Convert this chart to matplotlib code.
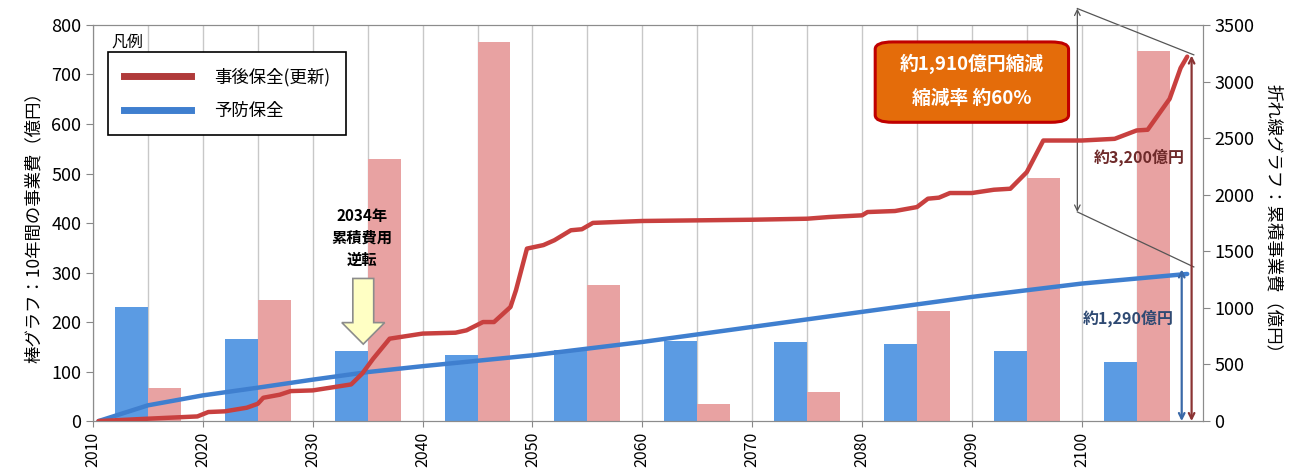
import numpy as np
import matplotlib
matplotlib.use('Agg')
import matplotlib.pyplot as plt
from matplotlib.lines import Line2D
from matplotlib.patches import FancyBboxPatch, FancyArrow

plt.rcParams['font.family'] = ['Noto Sans CJK JP', 'DejaVu Sans']

#
# bar data: 10-year project cost (left axis)
#
decades = [2010, 2020, 2030, 2040, 2050, 2060, 2070, 2080, 2090, 2100]
prevent_bar = [230, 166, 141, 134, 143, 161, 160, 155, 142, 119]
after_bar = [66, 245, 530, 766, 274, 35, 58, 222, 491, 748]

#
# cumulative cost lines (right axis)
#
red_years = [2010.5, 2015, 2019.5, 2020.5, 2022, 2024, 2025, 2025.5, 2027, 2028,
             2030, 2032, 2033.5, 2034.5, 2035.5, 2037, 2038, 2040, 2043, 2044,
             2045.5, 2046.5, 2048, 2048.5, 2049.5, 2051, 2052, 2053.5, 2054.5,
             2055.5, 2060, 2070, 2075, 2077, 2080, 2080.5, 2083, 2085, 2086,
             2087, 2088, 2090, 2092, 2093.5, 2095, 2096.5, 2100, 2103, 2105,
             2106, 2108, 2109, 2109.6]
red_cum = [0, 21, 41, 80, 86, 118, 153, 206, 233, 265,
           271, 301, 324, 419, 551, 728, 743, 773, 781, 802,
           875, 875, 1008, 1156, 1524, 1555, 1598, 1686, 1695,
           1751, 1768, 1779, 1788, 1803, 1818, 1847, 1856, 1891, 1965,
           1974, 2015, 2015, 2044, 2053, 2200, 2479, 2479, 2494, 2568,
           2574, 2847, 3120, 3220]
blue_years = [2010.5, 2015, 2020, 2025, 2030, 2035, 2040, 2050, 2060, 2070,
              2080, 2090, 2100, 2109.6]
blue_cum = [0, 139, 227, 295, 366, 433, 485, 581, 699, 832,
            965, 1097, 1215, 1300]

legend_labels = ['事後保全(更新)', '予防保全']

blue_bar_c = '#5b9be3'
pink_bar_c = '#e8a2a2'
red_line_c = '#c8403f'
blue_line_c = '#3f7fcf'

fig = plt.figure(figsize=(13.1, 4.71), dpi=100)
ax = fig.add_axes([0.071, 0.106, 0.847, 0.841])
ax2 = ax.twinx()

x = np.array(decades)
ax.bar(x + 3.5, prevent_bar, width=3.0, color=blue_bar_c, zorder=2)
ax.bar(x + 6.5, after_bar, width=3.0, color=pink_bar_c, zorder=2)

ax.set_xlim(2010, 2111)
ax.set_ylim(0, 800)
ax2.set_ylim(0, 3500)
ax.set_yticks(np.arange(0, 801, 100))
ax2.set_yticks(np.arange(0, 3501, 500))
ax.set_xticks(np.arange(2010, 2101, 10))
ax.set_xticks(np.arange(2015, 2106, 10), minor=True)
ax.tick_params(axis='x', which='major', labelrotation=90, labelsize=11.5,
               length=4, color='#888888')
ax.tick_params(axis='x', which='minor', length=0)
ax.tick_params(axis='y', labelsize=13, length=5, color='#888888')
ax2.tick_params(axis='y', labelsize=13, length=5, color='#888888')
ax.grid(axis='x', which='both', color='#c8c8c8', lw=1.0, zorder=0)
for a in (ax, ax2):
    for s in a.spines.values():
        s.set_color('#8c8c8c')
ax.set_ylabel('棒グラフ：10年間の事業費（億円）', fontsize=12.5, labelpad=6)
ax2.set_ylabel('折れ線グラフ：累積事業費（億円）', fontsize=12.5, rotation=270,
               labelpad=20)

ax2.plot(blue_years, blue_cum, color=blue_line_c, lw=3.2, zorder=3,
         solid_capstyle='round')
ax2.plot(red_years, red_cum, color=red_line_c, lw=3.2, zorder=4,
         solid_capstyle='round')

# legend
handles = [Line2D([], [], color='#b03a3a', lw=5),
           Line2D([], [], color='#3f7fcf', lw=5)]
leg = ax2.legend(handles, legend_labels, loc='upper left',
                 bbox_to_anchor=(0.0135, 0.932), fontsize=12.5, handlelength=3.9,
                 handletextpad=1.3, borderpad=0.9, labelspacing=0.9,
                 fancybox=False, framealpha=1, borderaxespad=0)
leg.get_frame().set_edgecolor('black')
leg.get_frame().set_linewidth(1.2)
ax2.text(0.017, 0.957, '凡例', transform=ax2.transAxes, fontsize=11.5,
         ha='left', va='center')

# 2034 arrow + text
ax2.text(2034.5, 1620, '2034年\n累積費用\n逆転', ha='center', va='center',
         fontsize=11, fontweight='bold', linespacing=1.45, zorder=6)
arr = FancyArrow(2034.6, 1260, 0, -580, width=1.9, head_width=3.9,
                 head_length=190, length_includes_head=True,
                 facecolor='#ffffc4', edgecolor='#8c8c8c', lw=1.2, zorder=6)
ax2.add_patch(arr)

# right-side arrows
ax2.annotate('', xy=(2109.1, 0), xytext=(2109.1, 1340),
             arrowprops=dict(arrowstyle='<->', color='#3a69a8', lw=1.6,
                             shrinkA=0, shrinkB=0), zorder=5)
ax2.annotate('', xy=(2110, 0), xytext=(2110, 3230),
             arrowprops=dict(arrowstyle='<->', color='#8b3434', lw=1.6,
                             shrinkA=0, shrinkB=0), zorder=5)
ax2.text(2105.2, 2330, '約3,200億円', ha='center', va='center', fontsize=11.5,
         color='#6e2a2a', fontweight='bold', zorder=6)
ax2.text(2104.2, 910, '約1,290億円', ha='center', va='center', fontsize=11.5,
         color='#2f4a73', fontweight='bold', zorder=6)

# difference bracket
ax2.annotate('', xy=(2099.6, 3645), xytext=(2099.6, 1848),
             arrowprops=dict(arrowstyle='<->', color='#555555', lw=0.9,
                             shrinkA=0, shrinkB=0), annotation_clip=False)
ax2.plot([2099.6, 2110.2], [3645, 3236], color='#555555', lw=0.9,
         clip_on=False)
ax2.plot([2099.6, 2110.2], [1848, 1362], color='#555555', lw=0.9,
         clip_on=False)

# orange box
box = FancyBboxPatch((2081.2, 2640), 17.6, 710,
                     boxstyle='round,pad=0,rounding_size=1.6',
                     mutation_aspect=40,
                     facecolor='#e46c0a', edgecolor='#c00000', lw=2.2,
                     zorder=7)
ax2.add_patch(box)
ax2.text(2090, 3160, '約1,910億円縮減', ha='center', va='center',
         fontsize=13.5, color='white', fontweight='bold', zorder=8)
ax2.text(2090, 2850, '縮減率 約60%', ha='center', va='center',
         fontsize=13.5, color='white', fontweight='bold', zorder=8)

fig.savefig('out.png', dpi=100)
